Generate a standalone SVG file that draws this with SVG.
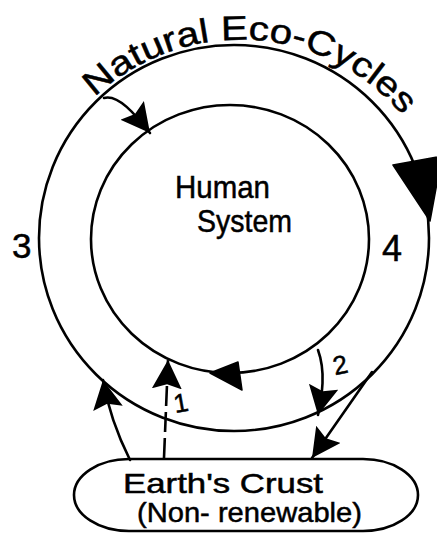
<svg xmlns="http://www.w3.org/2000/svg" width="437" height="533" viewBox="0 0 437 533">
<style>
.ring{fill:none;stroke:#000;stroke-width:2.6}
.conn{fill:none;stroke:#000;stroke-width:2.6;stroke-linecap:round}
.dash{stroke-dasharray:20 6;stroke-linecap:butt}
.head{fill:#000;stroke:#000;stroke-width:1.5;stroke-linejoin:round}
.t{font-family:"Liberation Sans","DejaVu Sans",sans-serif;fill:#000;stroke:#000;stroke-width:0.5}
</style>
<defs>
<marker id="ah" markerUnits="userSpaceOnUse" markerWidth="30" markerHeight="30" viewBox="0 0 26 26" refX="25" refY="13" orient="auto">
<path d="M0,0 L25,13 L0,26 L4,13 z" fill="#000"/>
</marker>
<path id="arcText" d="M 89 103 A 212 212 0 0 1 407 121"/>
</defs>
<rect width="437" height="533" fill="#fff"/>

<g id="natural-eco-cycles">
<ellipse class="ring" cx="234" cy="238" rx="195" ry="193"/>
<polygon class="head" points="393,165 442,156 430,221"/>
<text class="t" font-size="34"><textPath href="#arcText" startOffset="8" textLength="345" lengthAdjust="spacingAndGlyphs">Natural Eco-Cycles</textPath></text>
<text class="t" x="12" y="258" font-size="35">3</text>
<text class="t" x="382" y="261" font-size="36">4</text>
</g>

<g id="human-system">
<ellipse class="ring" cx="230" cy="239" rx="139" ry="134"/>
<polygon class="head" points="210,373 238,362 242,390"/>
<text class="t" x="175" y="198" font-size="32" textLength="95" lengthAdjust="spacingAndGlyphs">Human</text>
<text class="t" x="197" y="232" font-size="32" textLength="95" lengthAdjust="spacingAndGlyphs">System</text>
</g>

<g id="earths-crust">
<rect class="ring" x="74" y="459" width="344" height="72" rx="55" ry="36"/>
<text class="t" x="123" y="493" font-size="28" textLength="200" lengthAdjust="spacingAndGlyphs">Earth's Crust</text>
<text class="t" x="137" y="522" font-size="28" textLength="225" lengthAdjust="spacingAndGlyphs">(Non- renewable)</text>
</g>

<g id="connectors">
<path class="conn" d="M 104 98 C 118 94 135 114 150 133" marker-end="url(#ah)"/>
<path class="conn dash" d="M 164 458 L 168 360" marker-end="url(#ah)"/>
<path class="conn" d="M 130 460 Q 110 420 103 380" marker-end="url(#ah)"/>
<path class="conn" d="M 318 350 C 326 372 322 395 318 415" marker-end="url(#ah)"/>
<path class="conn" d="M 372 372 L 312 458" marker-end="url(#ah)"/>
<text class="t" x="174" y="412" font-size="26" transform="rotate(-10 180 405)">1</text>
<text class="t" x="333" y="373" font-size="26" transform="rotate(-12 345 365)">2</text>
</g>
</svg>
